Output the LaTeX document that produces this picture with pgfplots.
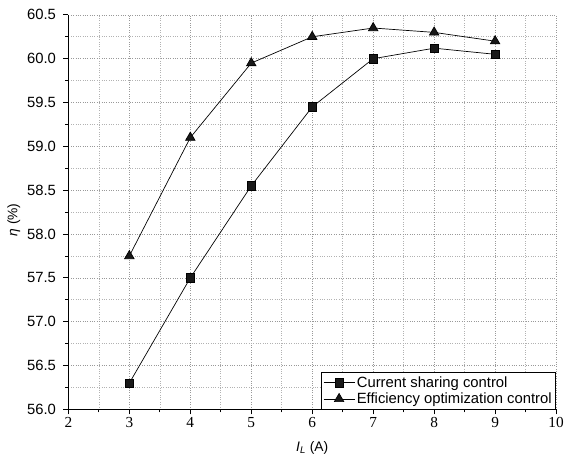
\documentclass[border=0pt]{standalone}
\usepackage{pgfplots}
\pgfplotsset{compat=1.18}
\usepackage{fontspec}
\setmainfont{Liberation Sans}
\newfontfamily\serifnum{Liberation Serif}
\begin{document}
\begin{tikzpicture}
\begin{axis}[
  scale only axis,
  width=492bp, height=398bp,
  xmin=2, xmax=10, ymin=56, ymax=60.5,
  axis lines*=left,
  axis line style={line width=1.1pt},
  xtick={2,3,...,10},
  ytick={56,56.5,...,60.5},
  minor x tick num=1,
  minor y tick num=1,
  tick align=outside,
  major tick length=5bp,
  minor tick length=3bp,
  tick style={black, line width=0.8pt},
  grid=both,
  major grid style={gray!80, dotted, line width=0.6pt},
  minor grid style={gray!60, dotted, line width=0.6pt},
  /pgf/number format/assume math mode=true,
  yticklabel style={font=\fontsize{15}{17}\selectfont, xshift=-4bp, /pgf/number format/.cd, fixed, fixed zerofill, precision=1},
  xticklabel style={font=\serifnum\fontsize{15.5}{17}\selectfont},
  xlabel={\textit{I}\textsubscript{\textit{L}} (A)},
  ylabel={\textit{η} (\%)},
  xlabel style={font=\fontsize{14}{16}\selectfont, at={(axis description cs:0.5,-0.098)}, anchor=center},
  ylabel style={font=\fontsize{14}{16}\selectfont, at={(axis description cs:-0.112,0.48)}, anchor=center},
  legend style={at={(rel axis cs:1,0)}, anchor=south east, font=\fontsize{15}{17}\selectfont, draw=black, line width=0.8pt, inner sep=2pt, row sep=0pt},
  legend cell align=left,
  legend image code/.code={\draw[#1] (0cm,0cm) -- (1.1cm,0cm); \draw[#1, only marks] plot coordinates {(0.55cm,0cm)};},
]
\addplot[black, line width=0.7pt, mark=square*, mark size=4.2bp, mark options={solid, fill=black!90}] coordinates {
(3,56.3) (4,57.5) (5,58.55) (6,59.45) (7,60.0) (8,60.12) (9,60.05)};
\addlegendentry{Current sharing control}
\addplot[black, line width=0.7pt, mark=triangle*, mark size=5.5bp, mark options={solid, fill=black!90}] coordinates {
(3,57.75) (4,59.1) (5,59.95) (6,60.25) (7,60.35) (8,60.3) (9,60.2)};
\addlegendentry{Efficiency optimization control}
\end{axis}
\path ([shift={(-69bp,-48bp)}]current axis.south west) rectangle ([shift={(6bp,15bp)}]current axis.north east);
\end{tikzpicture}
\end{document}
